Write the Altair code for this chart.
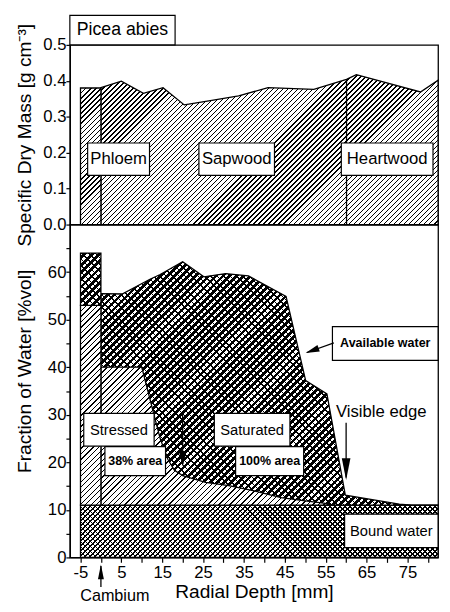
import math
import altair as alt
import pandas as pd

# ---------------- data ----------------
# Upper panel: specific dry mass [g cm-3] along radial depth [mm]
mass_x = [0, 5, 10.4, 15.2, 20.4, 26.4, 33.7, 40.9, 52.1, 60.1, 62.5, 78.2, 82.5]
mass_y = [0.381, 0.399, 0.365, 0.381, 0.333, 0.344, 0.358, 0.381, 0.376, 0.404, 0.417, 0.369, 0.402]
phloem_x = [-5, 0]
phloem_mass = 0.38
heartwood_x = 60.1
heartwood_mass = 0.404

# Lower panel: fraction of water [%vol]
sat_x = [0, 5.2, 12.0, 14.5, 20.0, 25.2, 30.5, 36.1, 45.3, 50.1, 55.3, 59.8, 73.0, 76.0, 82.5]
sat_y = [55.5, 55.4, 58.5, 59.5, 62.2, 59.0, 59.7, 59.2, 54.9, 37.2, 34.4, 13.1, 11.2, 11.0, 11.0]
stress_x = [0, 10.0, 12.8, 14.5, 16.4, 18.0, 20.0, 25.6, 31.3, 37.5, 44.1, 50.0, 54.5, 57.0]
stress_y = [40, 40, 30.6, 25.0, 20.6, 18.3, 17.2, 15.8, 15.1, 14.0, 12.6, 11.9, 11.4, 11.0]
bound_x = [-5, 82.5]
bound_level = 11
phloem_stress_top = 53
phloem_sat_top = 64

# tick values
x_ticks = [-5, 0, 5, 10, 15, 20, 25, 30, 35, 40, 45, 50, 55, 60, 65, 70, 75, 80]
yt_ticks = [0, 0.1, 0.2, 0.3, 0.4, 0.5]
yb_ticks = [0, 5, 10, 15, 20, 25, 30, 35, 40, 45, 50, 55, 60, 65]

# annotation boxes (data units)
top_box_label = ["Picea abies", "Phloem", "Sapwood", "Heartwood"]
top_box_x1 = [-7.6, -3.25, 23.98, 58.82]
top_box_x2 = [18.15, 11.89, 42.47, 81.26]
top_box_y1 = [0.5, 0.137, 0.137, 0.137]
top_box_y2 = [0.582, 0.227, 0.227, 0.227]
top_box_fs = [18, 17, 17, 17]

bot_box_label = ["Stressed", "Saturated", "Bound water", "38% area", "100% area", "Available water"]
bot_box_x1 = [-4.2, 27.75, 59.63, 0.98, 32.96, 56.65]
bot_box_x2 = [13.02, 46.25, 82.5, 15.81, 49.61, 82.5]
bot_box_y1 = [23.4, 23.4, 2.06, 17.2, 17.2, 41.44]
bot_box_y2 = [30.3, 30.3, 9.09, 23.3, 23.3, 48.52]
bot_box_fs = [15, 15, 15, 12.7, 12.7, 12.7]
bot_box_bold = [False, False, False, True, True, True]

# arrows: shafts and heads
arrow_x = [20, 60, 57.0, 0]
arrow_y = [30.8, 28.3, 45.1, -6.2]
arrow_x2 = [20, 60, 50.4, 0]
arrow_y2 = [19.6, 16.8, 43.1, -1.8]
head_x = [20, 60, 50.1, 0]
head_y = [19.1, 16.3, 43.0, -1.5]

# ---------------- layout constants ----------------
XMIN, XMAX = -7.6, 82.5
PW, TH, BH = 375, 183, 339
PXX = PW / (XMAX - XMIN)
PYT = TH / 0.5
PYB = BH / 70.0
FONT = "Liberation Sans"
CLEAR = "rgba(255,255,255,0)"


def hatch(W, H, d, lw, line, bg, direction):
    """Striped linear gradient (objectBoundingBox) giving 45 degree hatching."""
    n = max(1, int(round((W + H) / (d * math.sqrt(2)))))
    s = (W + H) / (W * W + H * H)
    if direction == "/":
        x1, y1, x2, y2 = 0, 0, s * W, s * H
    else:
        x1, y1, x2, y2 = 0, 1, s * W, 1 - s * H
    f = min(lw / d, 0.95)
    stops = []
    for i in range(n):
        a, b, c = i / n, (i + f) / n, (i + 1) / n
        stops += [
            {"offset": round(a, 5), "color": line},
            {"offset": round(b, 5), "color": line},
            {"offset": round(b, 5), "color": bg},
            {"offset": round(c, 5), "color": bg},
        ]
    return {"gradient": "linear", "x1": x1, "y1": y1, "x2": x2, "y2": y2, "stops": stops}


xs = alt.Scale(domain=[XMIN, XMAX], nice=False, zero=False)
yts = alt.Scale(domain=[0, 0.5], nice=False)
ybs = alt.Scale(domain=[0, 70], nice=False)

ax_top_y = alt.Axis(title="Specific Dry Mass [g cm⁻³]", values=yt_ticks, format=".1f",
                    titleX=-40, titleBaseline="alphabetic")
ax_bot_y = alt.Axis(title="Fraction of Water [%vol]", values=yb_ticks,
                    labelExpr="datum.value % 10 == 0 ? datum.label : ''",
                    titleX=-40, titleY=149, titleBaseline="alphabetic")
ax_bot_x = alt.Axis(title="Radial Depth [mm]", values=x_ticks,
                    labelExpr="datum.value % 10 == 0 ? '' : (datum.value < 0 ? '-' + abs(datum.value) : datum.label)",
                    titlePadding=3, labelPadding=2, tickSize=5)


def XT(f):
    return alt.X(f, type="quantitative", scale=xs, axis=None)


def YT(f):
    return alt.Y(f, type="quantitative", scale=yts, axis=ax_top_y)


def XB(f):
    return alt.X(f, type="quantitative", scale=xs, axis=ax_bot_x)


def YB(f):
    return alt.Y(f, type="quantitative", scale=ybs, axis=ax_bot_y)


STK = dict(stroke="black", strokeWidth=1.3)

# ---------------- upper panel ----------------
mass_df = pd.DataFrame({"x": mass_x, "y": mass_y})
ph_df = pd.DataFrame({"x": [phloem_x[0]], "x2": [phloem_x[1]], "y": [0], "y2": [phloem_mass]})
hw_df = pd.DataFrame({"x": [heartwood_x], "y": [0], "y2": [heartwood_mass]})
tb = pd.DataFrame({"label": top_box_label, "x1": top_box_x1, "x2": top_box_x2,
                   "y1": top_box_y1, "y2": top_box_y2, "fs": top_box_fs})
tb["cx"] = (tb.x1 + tb.x2) / 2
tb["cy"] = (tb.y1 + tb.y2) / 2

W = (max(mass_x) - min(mass_x)) * PXX
H = max(mass_y) * PYT
top_area = alt.Chart(mass_df).mark_area(
    fill=hatch(W, H, 3.6, 1.0, "black", "white", "/"), **STK
).encode(x=XT("x"), y=YT("y"))

top_ph = alt.Chart(ph_df).mark_rect(
    fill=hatch((phloem_x[1] - phloem_x[0]) * PXX, phloem_mass * PYT, 3.6, 1.0, "black", "white", "/"), **STK
).encode(x=XT("x"), x2="x2", y=YT("y"), y2="y2")

top_hw = alt.Chart(hw_df).mark_rule(color="black", strokeWidth=1.3).encode(x=XT("x"), y=YT("y"), y2="y2")

top_boxes = alt.Chart(tb).mark_rect(fill="white", stroke="black", strokeWidth=1.2).encode(
    x=XT("x1"), x2="x2", y=YT("y1"), y2="y2")
top_text = alt.Chart(tb).mark_text(color="black", baseline="middle", align="center").encode(
    x=XT("cx"), y=YT("cy"), text="label", size=alt.Size("fs:Q", scale=None))

top = alt.layer(top_area, top_ph, top_hw, top_boxes, top_text).properties(width=PW, height=TH)

# ---------------- lower panel ----------------
bound_df = pd.DataFrame({"x": [bound_x[0]], "x2": [bound_x[1]], "y": [0], "y2": [bound_level]})
Wb = (bound_x[1] - bound_x[0]) * PXX
Hb = bound_level * PYB
bound1 = alt.Chart(bound_df).mark_rect(
    fill=hatch(Wb, Hb, 3.6, 1.1, "black", "white", "/"), strokeWidth=0
).encode(x=XB("x"), x2="x2", y=YB("y"), y2="y2")
bound2 = alt.Chart(bound_df).mark_rect(
    fill=hatch(Wb, Hb, 3.6, 1.1, "black", CLEAR, "\\"), **STK
).encode(x=XB("x"), x2="x2", y=YB("y"), y2="y2")

sat_df = pd.DataFrame({"x": sat_x, "y": sat_y, "base": bound_level})
Ws = (max(sat_x) - min(sat_x)) * PXX
Hs = (max(sat_y) - bound_level) * PYB
sat1 = alt.Chart(sat_df).mark_area(
    fill=hatch(Ws, Hs, 5.0, 2.3, "white", "black", "/"), strokeWidth=0
).encode(x=XB("x"), y=YB("y"), y2="base")
sat2 = alt.Chart(sat_df).mark_area(
    fill=hatch(Ws, Hs, 4.6, 1.1, "black", CLEAR, "\\"), **STK
).encode(x=XB("x"), y=YB("y"), y2="base")

st_df = pd.DataFrame({"x": stress_x, "y": stress_y, "base": bound_level})
Wt = (max(stress_x) - min(stress_x)) * PXX
Ht = (max(stress_y) - bound_level) * PYB
stress = alt.Chart(st_df).mark_area(
    fill=hatch(Wt, Ht, 4.0, 1.0, "black", "white", "/"), **STK
).encode(x=XB("x"), y=YB("y"), y2="base")

pst_df = pd.DataFrame({"x": [phloem_x[0]], "x2": [phloem_x[1]], "y": [bound_level], "y2": [phloem_stress_top]})
Wp = (phloem_x[1] - phloem_x[0]) * PXX
ph_st = alt.Chart(pst_df).mark_rect(
    fill=hatch(Wp, (phloem_stress_top - bound_level) * PYB, 4.0, 1.0, "black", "white", "/"), **STK
).encode(x=XB("x"), x2="x2", y=YB("y"), y2="y2")

psa_df = pd.DataFrame({"x": [phloem_x[0]], "x2": [phloem_x[1]], "y": [phloem_stress_top], "y2": [phloem_sat_top]})
Hps = (phloem_sat_top - phloem_stress_top) * PYB
ph_sa1 = alt.Chart(psa_df).mark_rect(
    fill=hatch(Wp, Hps, 5.0, 2.3, "white", "black", "/"), strokeWidth=0
).encode(x=XB("x"), x2="x2", y=YB("y"), y2="y2")
ph_sa2 = alt.Chart(psa_df).mark_rect(
    fill=hatch(Wp, Hps, 4.6, 1.1, "black", CLEAR, "\\"), **STK
).encode(x=XB("x"), x2="x2", y=YB("y"), y2="y2")

bb = pd.DataFrame({"label": bot_box_label, "x1": bot_box_x1, "x2": bot_box_x2,
                   "y1": bot_box_y1, "y2": bot_box_y2, "fs": bot_box_fs, "bold": bot_box_bold})
bb["cx"] = (bb.x1 + bb.x2) / 2
bb["cy"] = (bb.y1 + bb.y2) / 2
bot_boxes = alt.Chart(bb).mark_rect(fill="white", stroke="black", strokeWidth=1.2).encode(
    x=XB("x1"), x2="x2", y=YB("y1"), y2="y2")
bot_text_n = alt.Chart(bb[~bb.bold]).mark_text(color="black", baseline="middle", align="center").encode(
    x=XB("cx"), y=YB("cy"), text="label", size=alt.Size("fs:Q", scale=None))
bot_text_b = alt.Chart(bb[bb.bold]).mark_text(color="black", baseline="middle", align="center",
                                               fontWeight="bold").encode(
    x=XB("cx"), y=YB("cy"), text="label", size=alt.Size("fs:Q", scale=None))

free_df = pd.DataFrame({"label": ["Visible edge", "Cambium"], "x": [68.6, 3.4], "y": [29.6, -9.2],
                        "fs": [17, 16.5]})
free_text = alt.Chart(free_df).mark_text(color="black", baseline="alphabetic", align="center").encode(
    x=XB("x"), y=YB("y"), text="label", size=alt.Size("fs:Q", scale=None))

shaft_df = pd.DataFrame({"x": arrow_x, "y": arrow_y, "x2": arrow_x2, "y2": arrow_y2})
shafts = alt.Chart(shaft_df).mark_rule(color="black", strokeWidth=1.3).encode(
    x=XB("x"), y=YB("y"), x2="x2", y2="y2")

DOWN = "M0,0L-0.5,-2L0.5,-2Z"
DOWN_N = "M0,0L-0.4,-2L0.4,-2Z"
UP = "M0,0L-0.4,2L0.4,2Z"
head_df = pd.DataFrame({"x": head_x, "y": head_y,
                        "shape": [DOWN, DOWN_N, DOWN, UP],
                        "ang": [0, 0, 70.4, 0],
                        "sz": [256, 484, 196, 225]})
heads = alt.Chart(head_df).mark_point(filled=True, color="black", opacity=1, strokeWidth=0).encode(
    x=XB("x"), y=YB("y"),
    shape=alt.Shape("shape:N", scale=None),
    angle=alt.Angle("ang:Q", scale=None),
    size=alt.Size("sz:Q", scale=None))

bottom = alt.layer(bound1, bound2, sat1, sat2, stress, ph_st, ph_sa1, ph_sa2,
                   bot_boxes, bot_text_n, bot_text_b, free_text, shafts, heads).properties(
    width=PW, height=BH)

chart = alt.vconcat(top, bottom, spacing=0, bounds="flush").properties(
    padding={"left": 6, "top": 0, "right": 0, "bottom": 0}
).configure(font=FONT).configure_view(stroke="black", strokeWidth=1.3).configure_axis(
    domainColor="black", domainWidth=1.3, tickColor="black", tickWidth=1.2, tickSize=4,
    labelColor="black", titleColor="black", labelFontSize=17, titleFontSize=19.5,
    titleFontWeight="normal", grid=False, labelPadding=0, labelFont=FONT, titleFont=FONT
)

chart.save("out.html", embed_options={"renderer": "svg", "actions": False})
